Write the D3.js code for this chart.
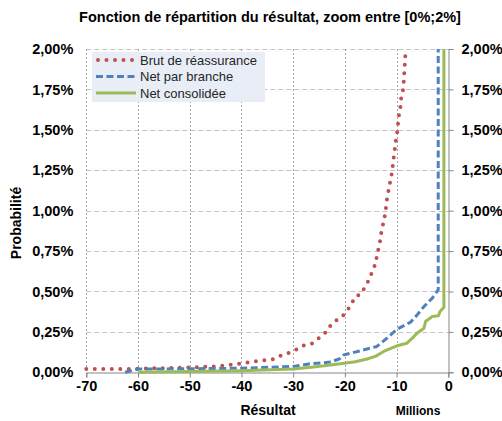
<!DOCTYPE html>
<html>
<head>
<meta charset="utf-8">
<script src="https://cdn.jsdelivr.net/npm/d3@7/dist/d3.min.js"></script>
<style>
  html, body { margin: 0; padding: 0; background: #fff; }
  svg { display: block; }
</style>
</head>
<body>
<svg id="chart" width="502" height="421"></svg>
<script>
// Empirical distribution of the result (millions), probability in %
const seriesNames = ["Brut de réassurance", "Net par branche", "Net consolidée"];

const brutX = [-70, -62, -56, -50, -46, -43, -40, -37, -34, -32, -30, -28, -26.2, -24.9, -23.6, -22.8,
  -21.7, -20.5, -19.6, -18.8, -18.1, -16.8, -16.0, -15.2, -14.7, -14.0, -13.8, -13.4, -13.1, -12.9,
  -12.5, -12.2, -12.0, -11.8, -11.5, -11.2, -10.9, -10.7, -10.5, -10.3, -10.1, -9.8, -9.7, -9.5,
  -9.2, -9.1, -8.7, -8.6, -8.5, -8.4, -8.3, -8.2];
const brutY = [0.02, 0.02, 0.025, 0.03, 0.035, 0.042, 0.055, 0.07, 0.08, 0.108, 0.13, 0.166, 0.18, 0.215,
  0.25, 0.288, 0.32, 0.345, 0.38, 0.416, 0.463, 0.488, 0.535, 0.58, 0.626, 0.676, 0.727, 0.777, 0.828,
  0.88, 0.93, 0.98, 1.035, 1.084, 1.134, 1.185, 1.236, 1.288, 1.342, 1.391, 1.445, 1.5, 1.55, 1.6,
  1.65, 1.703, 1.754, 1.805, 1.86, 1.91, 1.964, 2.0];

const brancheX = [-62.5, -60, -50, -40, -30, -26.6, -22.8, -21.0, -20.2, -17.0, -13.8, -11.8, -9.9,
  -7.3, -6.0, -4.7, -3.1, -1.95, -1.95];
const brancheY = [0, 0.02, 0.022, 0.025, 0.036, 0.053, 0.063, 0.084, 0.108, 0.133, 0.16, 0.213, 0.267,
  0.31, 0.356, 0.407, 0.459, 0.51, 2.0];

const consoX = [-60, -50, -40, -30, -27, -24, -20.5, -18, -15.7, -14, -12.5, -11, -9.9, -8, -7, -6,
  -4.7, -4.4, -3.1, -1.9, -1.6, -0.85, -0.85];
const consoY = [0, 0.005, 0.01, 0.02, 0.03, 0.04, 0.055, 0.065, 0.082, 0.1, 0.129, 0.15, 0.164, 0.18,
  0.21, 0.243, 0.273, 0.314, 0.345, 0.35, 0.376, 0.403, 2.0];

const xTicks = [-70, -60, -50, -40, -30, -20, -10, 0];
const yTicks = [0, 0.25, 0.5, 0.75, 1.0, 1.25, 1.5, 1.75, 2.0];

const colors = ["#C0504D", "#4F81BD", "#9BBB59"];

const svg = d3.select("#chart");
const plotL = 86.3, plotR = 448.3, plotT = 49, plotB = 372.3;

const x = d3.scaleLinear().domain([-70, 0]).range([plotL, plotR]);
const y = d3.scaleLinear().domain([0, 2]).range([plotB, plotT]);

const boldFont = "'Liberation Sans', Arial, sans-serif";
const tickSize = 14.5;

// Title
svg.append("text")
  .attr("x", 270).attr("y", 22)
  .attr("text-anchor", "middle")
  .attr("font-family", boldFont).attr("font-weight", "bold").attr("font-size", 14.5)
  .attr("fill", "#000")
  .text("Fonction de répartition du résultat, zoom entre [0%;2%]");

// Gridlines
const grid = svg.append("g");
grid.selectAll("line.h").data(yTicks.filter(v => v > 0)).join("line")
  .attr("x1", plotL).attr("x2", plotR)
  .attr("y1", d => Math.round(y(d)) + 0.5).attr("y2", d => Math.round(y(d)) + 0.5)
  .attr("stroke", "#c4c4c4").attr("stroke-width", 1)
  .attr("stroke-dasharray", "5,3");
grid.selectAll("line.v").data(xTicks.filter(v => v < 0)).join("line")
  .attr("x1", d => Math.round(x(d)) + 0.5).attr("x2", d => Math.round(x(d)) + 0.5)
  .attr("y1", plotT).attr("y2", plotB)
  .attr("stroke", "#a6a6a6").attr("stroke-width", 1)
  .attr("stroke-dasharray", "2,2");

// Bottom axis
const fmtPct = v => v.toFixed(2).replace(".", ",") + "%";
const xAxis = svg.append("g")
  .attr("transform", `translate(0,${Math.round(plotB) + 0.5})`)
  .call(d3.axisBottom(x).tickValues(xTicks).tickSize(5).tickPadding(3).tickFormat(d3.format("d")));
xAxis.select(".domain").attr("stroke", "#868686");
xAxis.selectAll(".tick line").attr("stroke", "#868686");
xAxis.selectAll("text")
  .attr("font-family", boldFont).attr("font-weight", "bold").attr("font-size", tickSize).attr("fill", "#000")
  .text(d => String(d));

// Right axis
const yAxisR = svg.append("g")
  .attr("transform", `translate(${Math.round(plotR) + 0.5},0)`)
  .call(d3.axisRight(y).tickValues(yTicks).tickSize(5).tickPadding(8).tickFormat(fmtPct));
yAxisR.select(".domain").attr("stroke", "#868686");
yAxisR.selectAll(".tick line").attr("stroke", "#868686");
yAxisR.selectAll("text")
  .attr("font-family", boldFont).attr("font-weight", "bold").attr("font-size", tickSize).attr("fill", "#000");

// Left labels (no axis line)
const yAxisL = svg.append("g")
  .attr("transform", `translate(${plotL},0)`)
  .call(d3.axisLeft(y).tickValues(yTicks).tickSize(0).tickPadding(13).tickFormat(fmtPct));
yAxisL.select(".domain").remove();
yAxisL.selectAll("text")
  .attr("font-family", boldFont).attr("font-weight", "bold").attr("font-size", tickSize).attr("fill", "#000");

// Axis titles
svg.append("text")
  .attr("x", 268).attr("y", 415)
  .attr("text-anchor", "middle")
  .attr("font-family", boldFont).attr("font-weight", "bold").attr("font-size", 14)
  .text("Résultat");
svg.append("text")
  .attr("x", 418).attr("y", 415)
  .attr("text-anchor", "middle")
  .attr("font-family", boldFont).attr("font-weight", "bold").attr("font-size", 12)
  .text("Millions");
svg.append("text")
  .attr("transform", "translate(21,223) rotate(-90)")
  .attr("text-anchor", "middle")
  .attr("font-family", boldFont).attr("font-weight", "bold").attr("font-size", 14)
  .text("Probabilité");

// Series
svg.append("clipPath").attr("id", "plotClip")
  .append("rect").attr("x", plotL - 3).attr("y", plotT - 1).attr("width", plotR - plotL + 3).attr("height", plotB - plotT + 3);

const line = d3.line().x(d => x(d[0])).y(d => y(d[1]));
const series = [
  { name: seriesNames[0], pts: d3.zip(brutX, brutY), color: colors[0], width: 4, dash: "0,8.5", cap: "round" },
  { name: seriesNames[1], pts: d3.zip(brancheX, brancheY), color: colors[1], width: 3, dash: "7,3.5", cap: "butt" },
  { name: seriesNames[2], pts: d3.zip(consoX, consoY), color: colors[2], width: 3, dash: null, cap: "butt" }
];

const plot = svg.append("g").attr("clip-path", "url(#plotClip)");
series.forEach(s => {
  plot.append("path")
    .attr("d", line(s.pts))
    .attr("fill", "none")
    .attr("stroke", s.color)
    .attr("stroke-width", s.width)
    .attr("stroke-linecap", s.cap)
    .attr("stroke-linejoin", "round")
    .attr("stroke-dasharray", s.dash);
});

// Legend
const legend = svg.append("g");
legend.append("rect")
  .attr("x", 92).attr("y", 52).attr("width", 173).attr("height", 50)
  .attr("fill", "#e8edf6");
series.forEach((s, i) => {
  const ly = 60 + i * 16.5;
  legend.append("line")
    .attr("x1", s.cap === "round" ? 98 : 96).attr("x2", 136)
    .attr("y1", ly).attr("y2", ly)
    .attr("stroke", s.color).attr("stroke-width", s.width)
    .attr("stroke-linecap", s.cap)
    .attr("stroke-dasharray", s.dash);
  legend.append("text")
    .attr("x", 140).attr("y", ly + 4.5)
    .attr("font-family", "'Liberation Sans', Arial, sans-serif").attr("font-size", 13)
    .attr("fill", "#262626")
    .text(s.name);
});
</script>
</body>
</html>
